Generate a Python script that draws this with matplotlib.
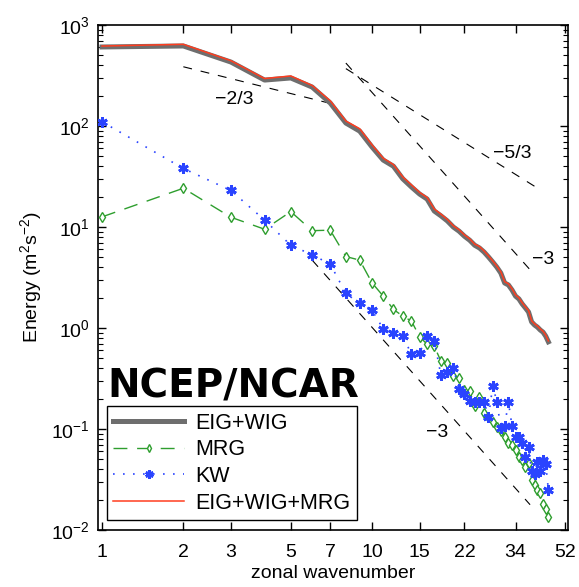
import matplotlib
matplotlib.use("Agg")
import matplotlib.pyplot as plt
from matplotlib.ticker import FixedLocator, FixedFormatter, LogLocator, NullFormatter

plt.rcParams["font.family"] = ["Liberation Sans", "DejaVu Sans"]
plt.rcParams["mathtext.fontset"] = "custom"
plt.rcParams["mathtext.rm"] = "Liberation Sans"

# zonal wavenumbers
k = list(range(1, 46))

eig_wig = [606, 620, 430, 285, 299, 243, 169, 107, 89, 62,
           46, 40, 30, 24.9, 21.2, 18.9, 14.4, 12.9, 11.5, 10.0,
           9.1, 8.1, 7.4, 6.6, 6.2, 5.65, 5.05, 4.5, 4.0, 3.5,
           2.79, 2.67, 2.38, 2.07, 1.94, 1.73, 1.58, 1.44, 1.15, 1.07,
           1.02, 0.955, 0.91, 0.83, 0.73]

eig_wig_mrg = [619, 644, 443, 295, 313, 252, 178, 112, 94, 65,
               48, 41.5, 31.3, 26.1, 22.0, 19.6, 15.1, 13.4, 11.9, 10.3,
               9.4, 8.35, 7.64, 6.77, 6.41, 5.8, 5.18, 4.62, 4.1, 3.6,
               2.87, 2.74, 2.45, 2.13, 1.99, 1.78, 1.62, 1.49, 1.18, 1.10,
               1.045, 0.978, 0.93, 0.85, 0.745]

mrg = [12.6, 24.2, 12.5, 9.5, 14.2, 9.2, 9.3, 5.1, 4.7, 2.8,
       2.07, 1.53, 1.31, 1.17, 0.82, 0.69, 0.66, 0.47, 0.45, 0.335,
       0.32, 0.243, 0.237, 0.169, 0.209, 0.145, 0.13, 0.116, 0.105, 0.095,
       0.084, 0.072, 0.0695, 0.062, 0.0525, 0.049, 0.0424, 0.046, 0.031, 0.028,
       0.025, 0.023, 0.018, 0.0163, 0.0135]

kw = [110, 38, 23, 11.7, 6.6, 5.3, 4.3, 2.2, 1.75, 1.5,
      0.98, 0.90, 0.83, 0.55, 0.57, 0.83, 0.75, 0.34, 0.37, 0.40,
      0.25, 0.22, 0.19, 0.186, 0.186, 0.186, 0.132, 0.267, 0.186, 0.102,
      0.107, 0.186, 0.107, 0.084, 0.084, 0.073, 0.053, 0.067, 0.0385, 0.036,
      0.0475, 0.0385, 0.049, 0.045, 0.025]

# reference slopes: (k_start, k_end), (E_start, E_end)
slope_23_k, slope_23_e = [2, 7.5], [386, 160]
slope_53_k, slope_53_e = [8, 40], [370, 25.3]
slope_3a_k, slope_3a_e = [8, 38.5], [420, 3.77]
slope_3b_k, slope_3b_e = [6, 38.5], [4.7, 0.0178]

xticks = [1, 2, 3, 5, 7, 10, 15, 22, 34, 52]

fig = plt.figure(figsize=(5.79, 5.87), dpi=100)
ax = fig.add_axes([0.1693, 0.0971, 0.8117, 0.8603])

ax.plot(k, eig_wig, color="#6e6e6e", lw=3.6, label="EIG+WIG", zorder=3)
ax.plot(k, mrg, color="#2e9e2e", lw=1.0, ls=(0, (10, 7)), marker="d",
        ms=5, mfc="white", mec="#2e9e2e", mew=1.0, label="MRG", zorder=4)
ax.plot(k, kw, color="#2a44ff", lw=1.2, ls=(0, (1, 5)), marker=(6, 2, 0),
        ms=7.5, mec="#2a44ff", mew=2.0, label="KW", zorder=4)
ax.plot(k, eig_wig_mrg, color="#ff3d1f", lw=1.1, label="EIG+WIG+MRG", zorder=5)

dash = dict(color="black", lw=0.8, ls=(0, (8, 8)), zorder=2)
ax.plot(slope_23_k, slope_23_e, **dash)
ax.plot(slope_53_k, slope_53_e, **dash)
ax.plot(slope_3a_k, slope_3a_e, **dash)
ax.plot(slope_3b_k, slope_3b_e, **dash)

ax.text(3.08, 185, "\u22122/3", fontsize=14, ha="center", va="center")
ax.text(33, 54, "\u22125/3", fontsize=14, ha="center", va="center")
ax.text(43, 4.8, "\u22123", fontsize=14, ha="center", va="center")
ax.text(17.4, 0.093, "\u22123", fontsize=14, ha="center", va="center")

ax.set_xscale("log")
ax.set_yscale("log")
ax.set_xlim(0.966, 53.2)
ax.set_ylim(1e-2, 1e3)

ax.xaxis.set_major_locator(FixedLocator(xticks))
ax.xaxis.set_major_formatter(FixedFormatter([str(t) for t in xticks]))
ax.xaxis.set_minor_locator(FixedLocator([]))
ax.yaxis.set_major_locator(LogLocator(base=10, numticks=10))
ax.yaxis.set_minor_locator(LogLocator(base=10, subs=range(2, 10), numticks=20))
ax.yaxis.set_minor_formatter(NullFormatter())

ax.tick_params(which="both", direction="in", top=True, right=True, labelsize=14)
ax.tick_params(which="major", length=6, width=1.0, pad=6)
ax.tick_params(which="minor", length=3.5, width=0.8)
ax.tick_params(axis="x", which="major", pad=10)
for s in ax.spines.values():
    s.set_linewidth(1.2)

ax.set_xlabel("zonal wavenumber", fontsize=14, labelpad=3)
ax.set_ylabel("Energy (m$^2$s$^{-2}$)", fontsize=14, labelpad=4)

ax.text(0.019, 0.262, "NCEP/NCAR", transform=ax.transAxes, fontsize=28,
        fontweight="bold", family="DejaVu Sans", ha="left", va="baseline",
        zorder=6)

leg = ax.legend(loc="lower left", bbox_to_anchor=(0.019, 0.0198),
                borderaxespad=0, fontsize=15.5, fancybox=False, framealpha=1,
                edgecolor="black", handlelength=3.3, handletextpad=0.5,
                labelspacing=0.26, borderpad=0.3, markerscale=0.8)
leg.get_frame().set_linewidth(1.0)

fig.savefig("out.png", dpi=100)
